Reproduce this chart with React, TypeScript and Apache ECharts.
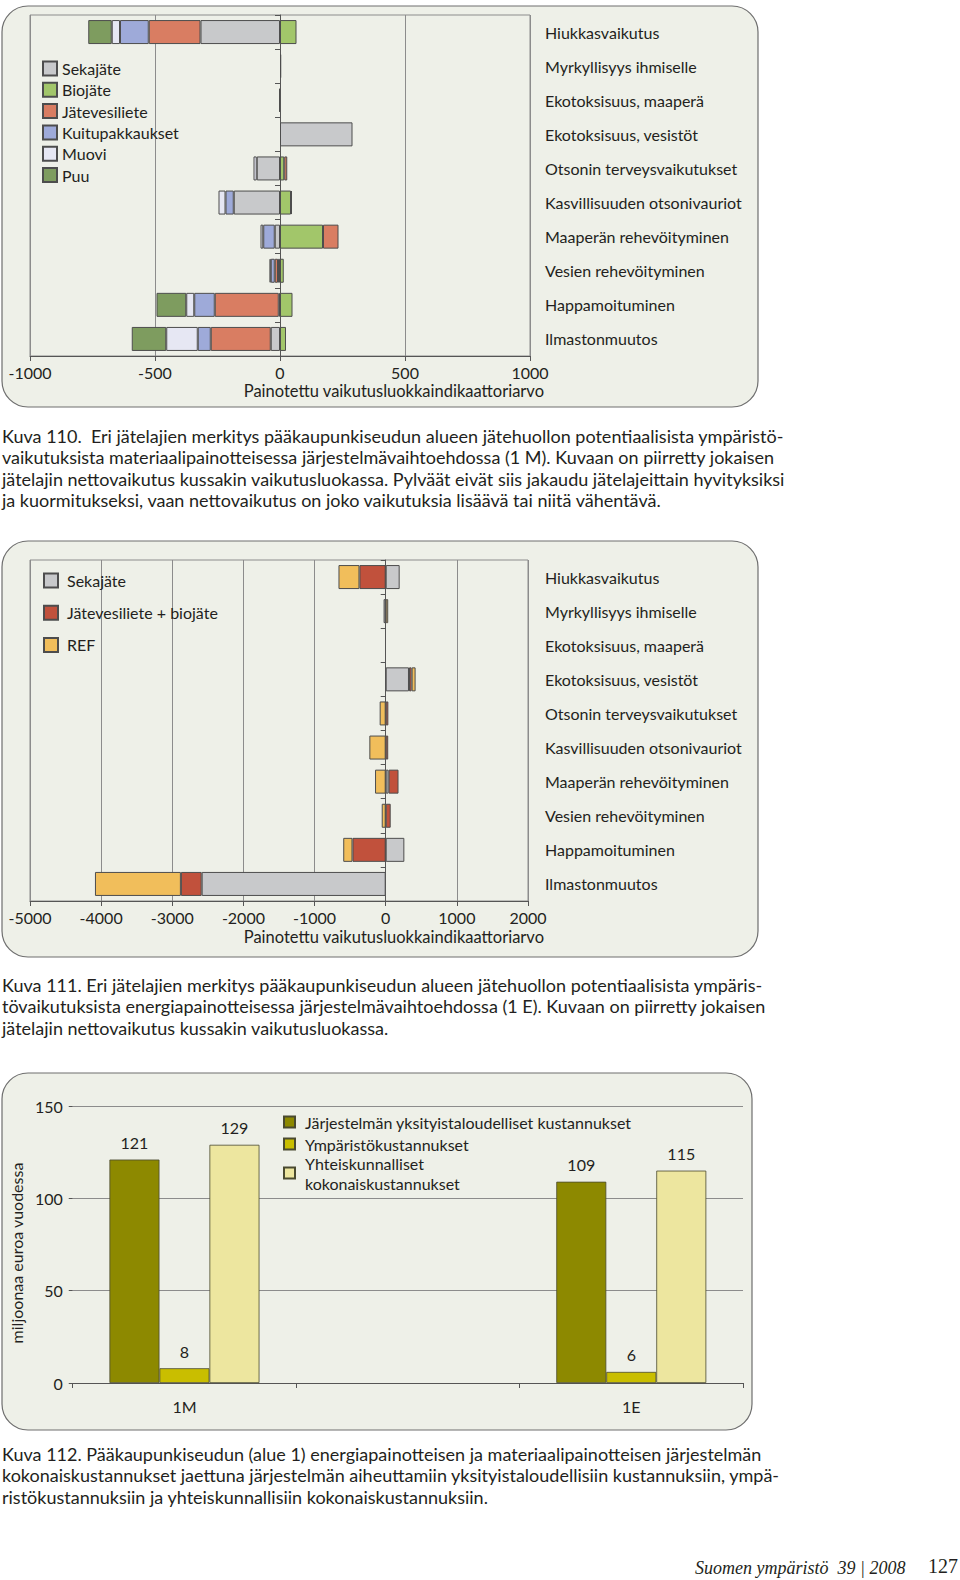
import React, { useEffect, useRef } from 'react';
import * as echarts from 'echarts';

const FONT = 'Lato, "Open Sans", sans-serif';
const TXT = '#231f20';

// Impact categories (shared by Kuva 110 and Kuva 111)
const impactCategories = [
  'Hiukkasvaikutus',
  'Myrkyllisyys ihmiselle',
  'Ekotoksisuus, maaperä',
  'Ekotoksisuus, vesistöt',
  'Otsonin terveysvaikutukset',
  'Kasvillisuuden otsonivauriot',
  'Maaperän rehevöityminen',
  'Vesien rehevöityminen',
  'Happamoituminen',
  'Ilmastonmuutos',
];

// Kuva 110 (1 M)
const mSekajate = [-318, 5, -4, 290, -93, -185, -21, -8, -5, -37];
const mBiojate = [66, null, null, null, 17, 44, 172, 15, 50, 24];
const mJatevesiliete = [-207, null, null, null, 12, 4, 62, -13, -256, -240];
const mKuitupakkaukset = [-115, null, null, null, null, -33, -46, -16, -82, -52];
const mMuovi = [-33, null, null, null, -13, -28, -11, -5, -32, -126];
const mPuu = [-94, null, null, null, null, null, null, null, -119, -138];
const mTicks = { min: -1000, max: 1000, interval: 500 };

// Kuva 111 (1 E)
const eSekajate = [196, -30, null, 327, null, null, 40, null, 262, -2587];
const eJatevesilieteBiojate = [-369, null, null, 37, 37, 35, 140, 70, -467, -292];
const eRef = [-295, 35, null, 56, -85, -230, -150, -56, -130, -1208];
const eTicks = { min: -5000, max: 2000, interval: 1000 };

// Kuva 112
const costCategories = ['1M', '', '1E'];
const privateCosts = [121, null, 109];
const environmentalCosts = [8, null, 6];
const totalCosts = [129, null, 115];
const costTicks = { min: 0, max: 150, interval: 50 };

const caption110 = [
  'Kuva 110.  Eri jätelajien merkitys pääkaupunkiseudun alueen jätehuollon potentiaalisista ympäristö-',
  'vaikutuksista materiaalipainotteisessa järjestelmävaihtoehdossa (1 M). Kuvaan on piirretty jokaisen',
  'jätelajin nettovaikutus kussakin vaikutusluokassa. Pylväät eivät siis jakaudu jätelajeittain hyvityksiksi',
  'ja kuormitukseksi, vaan nettovaikutus on joko vaikutuksia lisäävä tai niitä vähentävä.',
];
const caption111 = [
  'Kuva 111. Eri jätelajien merkitys pääkaupunkiseudun alueen jätehuollon potentiaalisista ympäris-',
  'tövaikutuksista energiapainotteisessa järjestelmävaihtoehdossa (1 E). Kuvaan on piirretty jokaisen',
  'jätelajin nettovaikutus kussakin vaikutusluokassa.',
];
const caption112 = [
  'Kuva 112. Pääkaupunkiseudun (alue 1) energiapainotteisen ja materiaalipainotteisen järjestelmän',
  'kokonaiskustannukset jaettuna järjestelmän aiheuttamiin yksityistaloudellisiin kustannuksiin, ympä-',
  'ristökustannuksiin ja yhteiskunnallisiin kokonaiskustannuksiin.',
];
const axisTitle = 'Painotettu vaikutusluokkaindikaattoriarvo';

const GRID_LINE = '#8c8c8c';
const AXIS_LINE = '#555';

function valueX(gridIndex: number, t: { min: number; max: number; interval: number }, labelMargin: number) {
  return {
    type: 'value',
    gridIndex,
    min: t.min,
    max: t.max,
    interval: t.interval,
    axisLine: { show: true, lineStyle: { color: AXIS_LINE } },
    axisTick: { show: true, length: 5, lineStyle: { color: AXIS_LINE } },
    axisLabel: { fontSize: 16, lineHeight: 16, color: TXT, margin: labelMargin, fontFamily: FONT, formatter: (v: number) => String(v) },
    splitLine: { show: true, lineStyle: { color: GRID_LINE, width: 1 } },
  };
}

function catYAxes(gridIndex: number, labelMargin: number) {
  return [
    {
      type: 'category',
      gridIndex,
      data: impactCategories,
      inverse: true,
      position: 'left',
      axisLine: { show: true, onZero: true, lineStyle: { color: AXIS_LINE } },
      axisTick: { show: true, length: 5, lineStyle: { color: AXIS_LINE } },
      axisLabel: { show: false },
      splitLine: { show: false },
    },
    {
      type: 'category',
      gridIndex,
      data: impactCategories,
      inverse: true,
      position: 'right',
      axisLine: { show: false },
      axisTick: { show: false },
      axisLabel: { show: true, align: 'left', margin: labelMargin, fontSize: 16, color: TXT, fontFamily: FONT },
      splitLine: { show: false },
    },
  ];
}

const BORDER = { borderColor: '#4d4d4d', borderWidth: 1 };

function stackBar(name: string, data: (number | null)[], color: string, xi: number, yi: number, stack: string) {
  return {
    type: 'bar',
    name,
    data,
    stack,
    xAxisIndex: xi,
    yAxisIndex: yi,
    barWidth: 24,
    itemStyle: { color, ...BORDER },
  };
}

function costBar(name: string, data: (number | null)[], color: string) {
  return {
    type: 'bar',
    name,
    data,
    xAxisIndex: 2,
    yAxisIndex: 4,
    barWidth: 50,
    barGap: '0%',
    itemStyle: { color, borderColor: '#4a4a30', borderWidth: 0.8 },
    label: { show: true, position: 'top', distance: 9, fontSize: 16, color: TXT, fontFamily: FONT },
  };
}

function captionGraphic(lines: string[], y: number) {
  return {
    type: 'text',
    x: 2,
    y,
    style: {
      text: lines.join('\n'),
      font: `18px ${FONT}`,
      lineHeight: 21.2,
      fill: TXT,
      align: 'left',
      verticalAlign: 'top',
    },
  };
}

function axisTitleGraphic(y: number) {
  return {
    type: 'text',
    x: 544,
    y,
    style: {
      text: axisTitle,
      font: `16.5px ${FONT}`,
      fill: TXT,
      align: 'right',
      verticalAlign: 'middle',
    },
  };
}

function panel(x: number, y: number, w: number, h: number) {
  return {
    type: 'rect',
    z: -10,
    shape: { x, y, width: w, height: h, r: 26 },
    style: { fill: '#eef0e8', stroke: '#6e6e6e', lineWidth: 1.2 },
  };
}

const option = {
  animation: false,
  backgroundColor: '#ffffff',
  textStyle: { fontFamily: FONT, color: TXT },
  grid: [
    { left: 30, top: 15, width: 500, height: 341, show: true, borderColor: GRID_LINE, borderWidth: 1, backgroundColor: 'transparent' },
    { left: 30, top: 560, width: 498, height: 341, show: true, borderColor: GRID_LINE, borderWidth: 1, backgroundColor: 'transparent' },
    { left: 68, top: 1106, width: 675, height: 277, show: false },
  ],
  xAxis: [
    valueX(0, mTicks, 8),
    valueX(1, eTicks, 8.5),
    {
      type: 'category',
      gridIndex: 2,
      data: costCategories,
      axisLine: { show: true, lineStyle: { color: AXIS_LINE } },
      axisTick: { show: true, length: 5, alignWithLabel: false, lineStyle: { color: AXIS_LINE } },
      axisLabel: { fontSize: 16, color: TXT, margin: 15, fontFamily: FONT },
      splitLine: { show: false },
    },
  ],
  yAxis: [
    ...catYAxes(0, 15),
    ...catYAxes(1, 17),
    {
      type: 'value',
      gridIndex: 2,
      min: costTicks.min,
      max: costTicks.max,
      interval: costTicks.interval,
      name: 'miljoonaa euroa vuodessa',
      nameLocation: 'middle',
      nameGap: 46,
      nameTextStyle: { fontSize: 16, color: TXT, fontFamily: FONT, padding: [0, 17, 0, 0] },
      axisLine: { show: false },
      axisTick: { show: true, length: 4, lineStyle: { color: AXIS_LINE } },
      axisLabel: { fontSize: 16, color: TXT, margin: 10, fontFamily: FONT },
      splitLine: { show: true, lineStyle: { color: GRID_LINE } },
    },
  ],
  legend: [
    {
      data: ['Sekajäte', 'Biojäte', 'Jätevesiliete', 'Kuitupakkaukset', 'Muovi', 'Puu'],
      orient: 'vertical',
      left: 42,
      top: 59.5,
      padding: 0,
      itemWidth: 14,
      itemHeight: 14,
      itemGap: 3.3,
      icon: 'rect',
      textStyle: { fontSize: 16, lineHeight: 18, color: TXT, fontFamily: FONT },
      selectedMode: false,
    },
    {
      data: ['Sekajäte', 'Jätevesiliete + biojäte', 'REF'],
      orient: 'vertical',
      left: 43,
      top: 571.5,
      padding: 0,
      itemWidth: 14,
      itemHeight: 14,
      itemGap: 14.2,
      icon: 'rect',
      textStyle: { fontSize: 16, lineHeight: 18, color: TXT, fontFamily: FONT, padding: [0, 0, 0, 4] },
      selectedMode: false,
    },
    {
      data: ['Järjestelmän yksityistaloudelliset kustannukset', 'Ympäristökustannukset'],
      orient: 'vertical',
      left: 283,
      top: 1112,
      padding: 0,
      itemWidth: 11,
      itemHeight: 11,
      itemGap: 2,
      icon: 'rect',
      textStyle: { fontSize: 16, lineHeight: 20, color: TXT, fontFamily: FONT, padding: [0, 0, 0, 5] },
      selectedMode: false,
    },
    {
      data: ['Yhteiskunnalliset kokonaiskustannukset'],
      orient: 'vertical',
      left: 283,
      top: 1153,
      padding: 0,
      itemWidth: 11,
      itemHeight: 11,
      icon: 'rect',
      formatter: () => 'Yhteiskunnalliset\nkokonaiskustannukset',
      textStyle: { fontSize: 16, lineHeight: 20, color: TXT, fontFamily: FONT, padding: [0, 0, 0, 5] },
      selectedMode: false,
    },
  ],
  graphic: [
    panel(2, 6, 756, 401),
    panel(2, 541, 756, 416),
    panel(2, 1073, 750, 357),
    axisTitleGraphic(391),
    axisTitleGraphic(936.5),
    captionGraphic(caption110, 425.5),
    captionGraphic(caption111, 974.5),
    captionGraphic(caption112, 1443.5),
    {
      type: 'text',
      x: 695,
      y: 1568,
      style: {
        text: 'Suomen ympäristö  39 | 2008',
        font: 'italic 18px "Liberation Serif", "DejaVu Serif", serif',
        fill: TXT,
        align: 'left',
        verticalAlign: 'middle',
      },
    },
    {
      type: 'text',
      x: 958,
      y: 1566,
      style: {
        text: '127',
        font: '20px "Liberation Serif", "DejaVu Serif", serif',
        fill: TXT,
        align: 'right',
        verticalAlign: 'middle',
      },
    },
  ],
  series: [
    stackBar('Sekajäte', mSekajate, '#c8c9cb', 0, 0, 'm'),
    stackBar('Biojäte', mBiojate, '#a2c66a', 0, 0, 'm'),
    stackBar('Jätevesiliete', mJatevesiliete, '#d97d62', 0, 0, 'm'),
    stackBar('Kuitupakkaukset', mKuitupakkaukset, '#9eaad9', 0, 0, 'm'),
    stackBar('Muovi', mMuovi, '#e6e7f3', 0, 0, 'm'),
    stackBar('Puu', mPuu, '#7e9c5f', 0, 0, 'm'),
    stackBar('Sekajäte', eSekajate, '#c8c9cb', 1, 2, 'e'),
    stackBar('Jätevesiliete + biojäte', eJatevesilieteBiojate, '#c1513c', 1, 2, 'e'),
    stackBar('REF', eRef, '#f1be5b', 1, 2, 'e'),
    costBar('Järjestelmän yksityistaloudelliset kustannukset', privateCosts, '#8d8900'),
    costBar('Ympäristökustannukset', environmentalCosts, '#c9be00'),
    costBar('Yhteiskunnalliset kokonaiskustannukset', totalCosts, '#ede69f'),
  ],
};

export default function App() {
  const ref = useRef<HTMLDivElement>(null);
  useEffect(() => {
    if (!ref.current) return;
    const chart = echarts.init(ref.current, undefined, { renderer: 'svg', width: 960, height: 1580 });
    chart.setOption(option as any);
    return () => chart.dispose();
  }, []);
  return (
    <div
      ref={ref}
      style={{ position: 'absolute', left: 0, top: 0, width: 960, height: 1580, background: '#ffffff' }}
    />
  );
}
